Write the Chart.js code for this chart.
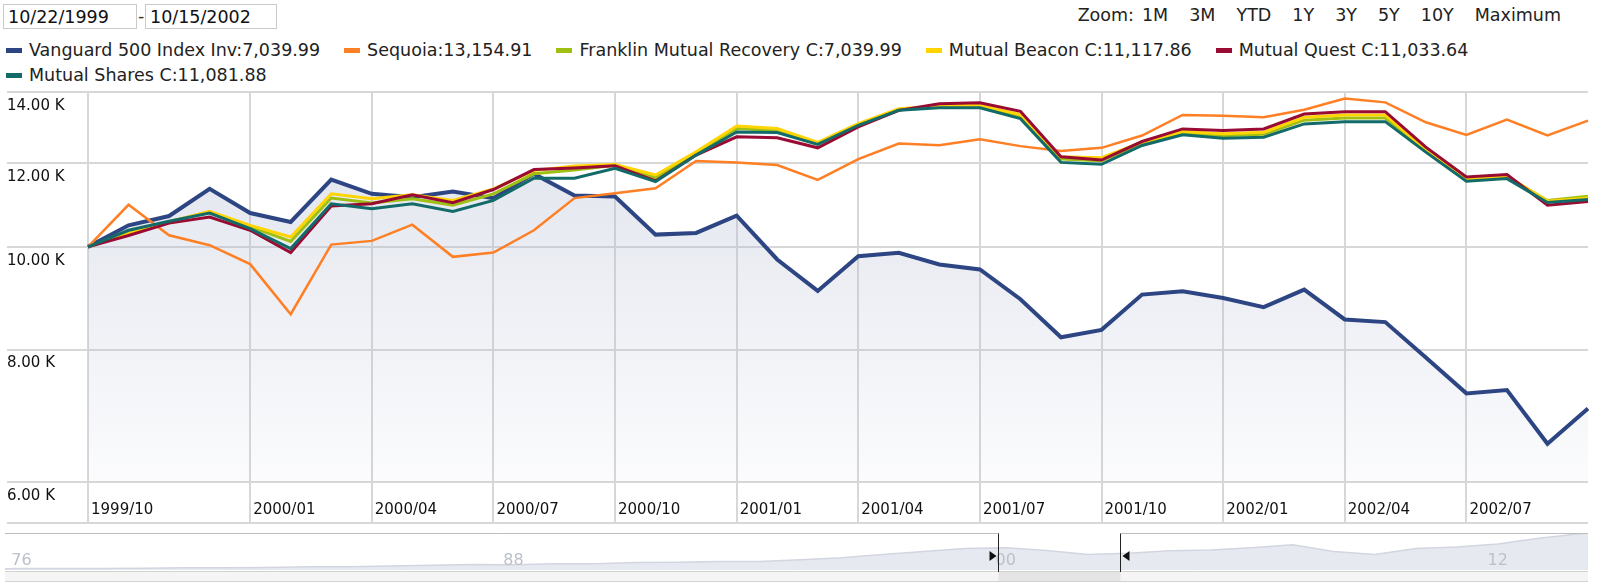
<!DOCTYPE html>
<html>
<head>
<meta charset="utf-8">
<script src="https://cdn.jsdelivr.net/npm/chart.js@4.4.1/dist/chart.umd.min.js"></script>
<style>
  html, body { margin:0; padding:0; background:#fff; }
  body { width:1600px; height:587px; overflow:hidden; position:relative; font-family:'DejaVu Sans', Verdana, sans-serif; color:#222; }
  .dateIn { position:absolute; top:4px; height:25px; box-sizing:border-box; border:1px solid #c9c9c9; font:17.5px 'DejaVu Sans'; padding:0 4px; color:#111; background:#fff; outline:none; }
  #dash { position:absolute; left:138px; top:4px; font:17.5px 'DejaVu Sans'; line-height:25px; color:#333; }
  #zoom { position:absolute; right:39px; top:3px; font:17.5px 'DejaVu Sans'; line-height:25px; color:#222; white-space:nowrap; }
  #zoom span { margin-left:21px; }
  #zoom span.first { margin-left:8px; }
  #legend { position:absolute; left:6px; top:38px; width:1590px; display:flex; flex-wrap:wrap; column-gap:24px; font:17.5px 'DejaVu Sans'; line-height:25px; color:#222; }
  .item { display:inline-flex; align-items:center; white-space:nowrap; }
  .sw { display:inline-block; width:16px; height:5px; margin-right:7px; }
  #mainWrap { position:absolute; left:0; top:80px; width:1600px; height:450px; }
  #navWrap { position:absolute; left:0; top:525px; width:1600px; height:62px; }
</style>
</head>
<body>
<input class="dateIn" style="left:3px;width:134px" value="10/22/1999">
<div id="dash">-</div>
<input class="dateIn" style="left:145px;width:132px" value="10/15/2002">
<div id="zoom">Zoom:<span class="first">1M</span><span>3M</span><span>YTD</span><span>1Y</span><span>3Y</span><span>5Y</span><span>10Y</span><span>Maximum</span></div>
<div id="legend"></div>
<div id="mainWrap"><canvas id="main" width="1600" height="450"></canvas></div>
<div id="navWrap"><canvas id="nav" width="1600" height="62"></canvas></div>
<script>
// ---------- data ----------
const categories = ['1999/10/22','1999/10/29','1999/11/30','1999/12/31','2000/01/31','2000/02/29','2000/03/31','2000/04/28','2000/05/31','2000/06/30','2000/07/31','2000/08/31','2000/09/29','2000/10/31','2000/11/30','2000/12/29','2001/01/31','2001/02/28','2001/03/30','2001/04/30','2001/05/31','2001/06/29','2001/07/31','2001/08/31','2001/09/28','2001/10/31','2001/11/30','2001/12/31','2002/01/31','2002/02/28','2002/03/28','2002/04/30','2002/05/31','2002/06/28','2002/07/31','2002/08/30','2002/09/30','2002/10/15'];

const vanguard = [10000,10479,10693,11344,10763,10556,11575,11222,11141,11279,11117,11718,11182,11156,10270,10307,10700,9730,9087,9800,9871,9625,9522,8925,8216,8350,9015,9080,8950,8772,9113,8541,8492,7862,7274,7327,6520,7040];
const sequoia  = [10000,10958,10255,10036,9632,8639,10050,10131,10494,9786,9878,10367,11117,11237,11359,12050,12015,11946,11565,12102,12518,12473,12636,12447,12313,12400,12737,13318,13299,13251,13473,13806,13688,13109,12755,13185,12737,13155];
const franklin = [10000,10300,10560,10790,10450,10120,11120,11000,11100,10950,11220,11720,11820,11940,11620,12260,12930,12880,12520,13050,13480,13560,13570,13280,12100,12060,12520,12810,12730,12770,13170,13230,13230,12330,11570,11640,11060,11160];
const beacon   = [10000,10292,10556,10801,10479,10218,11222,11101,11198,11061,11344,11802,11920,11960,11691,12295,13005,12930,12546,13071,13501,13580,13599,13328,12163,12137,12555,12847,12783,12829,13251,13318,13318,12358,11599,11666,11045,11118];
const quest    = [10000,10250,10530,10670,10367,9878,10927,10982,11198,11006,11327,11828,11870,11929,11540,12207,12700,12673,12402,12977,13453,13648,13678,13424,12163,12076,12572,12921,12875,12921,13347,13414,13414,12420,11640,11700,10949,11034];
const shares   = [10000,10367,10571,10763,10404,9964,10982,10864,10982,10801,11061,11608,11608,11860,11524,12207,12838,12820,12492,13024,13453,13531,13531,13213,12015,11964,12465,12755,12663,12691,13062,13127,13127,12286,11532,11599,11013,11082];

const seriesNames  = ['Vanguard 500 Index Inv','Sequoia','Franklin Mutual Recovery C','Mutual Beacon C','Mutual Quest C','Mutual Shares C'];
const legendValues = [7039.99, 13154.91, 7039.99, 11117.86, 11033.64, 11081.88];
const seriesColors = ['#2d4683','#ff7f24','#9fc012','#ffd400','#990b32','#126b69'];
const seriesWidths = [4, 2.5, 3, 3, 3, 3];

const yTickValues = [6000, 8000, 10000, 12000, 14000];
const xTickLabels = ['1999/10','2000/01','2000/04','2000/07','2000/10','2001/01','2001/04','2001/07','2001/10','2002/01','2002/04','2002/07'];

// navigator (long history) data
const navYears  = [1975.4,1976,1977,1978,1979,1980,1981,1982,1983,1984,1985,1986,1987,1988,1989,1990,1991,1992,1993,1994,1995,1996,1997,1998,1999,2000,2001,2002,2003,2004,2005,2006,2007,2008,2009,2010,2011,2012,2013,2014,2014.3];
const navValues = [3,4,4,4,5,6,6,7,9,9,11,13,15,14,17,17,20,21,23,23,28,33,42,50,58,60,53,42,45,52,54,60,68,50,42,58,62,70,86,98,100];
const navTickYears = [1976, 1988, 2000, 2012];
const navRange = [1999.81, 2002.79];

// ---------- legend ----------
const legendEl = document.getElementById('legend');
seriesNames.forEach((n, k) => {
  const it = document.createElement('span'); it.className = 'item';
  const sw = document.createElement('span'); sw.className = 'sw'; sw.style.background = seriesColors[k];
  const tx = document.createElement('span');
  tx.textContent = n + ':' + legendValues[k].toLocaleString('en-US', {minimumFractionDigits:2, maximumFractionDigits:2});
  it.appendChild(sw); it.appendChild(tx); legendEl.appendChild(it);
});

// ---------- main chart ----------
const GRID = '#d7d7d7';
const seriesData = [vanguard, sequoia, franklin, beacon, quest, shares];
const xTickIdx = xTickLabels.map(l => categories.findIndex(c => c.startsWith(l)));

const bandLine = {
  id: 'bandLine',
  afterDraw(chart) {
    const {ctx, scales:{x, y}, chartArea} = chart;
    ctx.save();
    ctx.strokeStyle = GRID; ctx.lineWidth = 2;
    ctx.beginPath(); ctx.moveTo(y.left, x.bottom); ctx.lineTo(chartArea.right, x.bottom); ctx.stroke();
    ctx.restore();
  }
};

new Chart(document.getElementById('main'), {
  type: 'line',
  data: {
    labels: categories,
    datasets: seriesData.map((d, k) => ({
      label: seriesNames[k],
      data: d,
      borderColor: seriesColors[k],
      borderWidth: seriesWidths[k],
      pointRadius: 0,
      tension: 0,
      order: 6 - k,
      fill: k === 0 ? 'start' : false,
      backgroundColor: k === 0 ? (c) => {
        const {ctx, chartArea} = c.chart;
        if (!chartArea) return 'rgba(180,188,210,0.2)';
        const g = ctx.createLinearGradient(0, chartArea.top, 0, chartArea.bottom);
        g.addColorStop(0, 'rgba(178,186,210,0.42)');
        g.addColorStop(1, 'rgba(178,186,210,0.05)');
        return g;
      } : 'transparent'
    }))
  },
  options: {
    responsive: false,
    animation: false,
    events: [],
    layout: { padding: { left: 7, right: 12, top: 10, bottom: 7 } },
    plugins: { legend: { display: false }, tooltip: { enabled: false } },
    scales: {
      x: {
        type: 'category',
        offset: false,
        grid: { color: GRID, lineWidth: 2, drawTicks: true, tickLength: 41, tickColor: GRID, tickWidth: 2 },
        border: { display: false },
        afterBuildTicks: (s) => { s.ticks = xTickIdx.map(i => ({ value: i })); },
        afterFit: (s) => { s.height = 41; },
        ticks: {
          autoSkip: false, maxRotation: 0, minRotation: 0,
          align: 'start', labelOffset: 3, padding: -22,
          color: '#111', font: { family: 'DejaVu Sans', size: 15 },
          callback: (v, i) => xTickLabels[i]
        }
      },
      y: {
        type: 'logarithmic',
        min: 6000, max: 14000,
        grid: { color: GRID, lineWidth: 2, drawTicks: true, tickLength: 81, tickColor: GRID, tickWidth: 2 },
        border: { display: false },
        afterBuildTicks: (s) => { s.ticks = yTickValues.map(v => ({ value: v })); },
        afterFit: (s) => { s.width = 81; },
        ticks: {
          crossAlign: 'far', labelOffset: 14,
          color: '#111', font: { family: 'DejaVu Sans', size: 15 },
          callback: (v) => (v / 1000).toFixed(2) + ' K'
        }
      }
    }
  },
  plugins: [bandLine]
});

// ---------- navigator ----------
const navDeco = {
  id: 'navDeco',
  afterDraw(chart) {
    const {ctx, chartArea, scales:{x}} = chart;
    const h1 = Math.round(x.getPixelForValue(navRange[0])) + 0.5;
    const h2 = Math.round(x.getPixelForValue(navRange[1])) + 0.5;
    const top = chartArea.top + 0.5, bot = chartArea.bottom;
    ctx.save();
    // year labels from the scale's ticks
    ctx.fillStyle = '#bcc0ca';
    ctx.font = '16px "DejaVu Sans"';
    ctx.textAlign = 'center'; ctx.textBaseline = 'middle';
    x.ticks.forEach(t => {
      ctx.fillText(String(t.value).slice(2), x.getPixelForValue(t.value), chartArea.bottom - 9);
    });
    // outline outside the selection
    ctx.strokeStyle = '#bdbdbd'; ctx.lineWidth = 1;
    ctx.beginPath(); ctx.moveTo(chartArea.left, top); ctx.lineTo(h1, top);
    ctx.moveTo(h2, top); ctx.lineTo(chartArea.right, top); ctx.stroke();
    // scrollbar
    ctx.fillStyle = '#f5f5f5';
    ctx.fillRect(chartArea.left, bot + 2, chartArea.right - chartArea.left, 10);
    ctx.fillStyle = '#e4e4e4';
    ctx.fillRect(h1, bot + 2, h2 - h1, 10);
    ctx.strokeStyle = '#d2d2d2';
    ctx.beginPath(); ctx.moveTo(chartArea.left, bot + 1.5); ctx.lineTo(chartArea.right, bot + 1.5);
    ctx.moveTo(chartArea.left, bot + 11.5); ctx.lineTo(chartArea.right, bot + 11.5); ctx.stroke();
    // handles
    ctx.strokeStyle = '#222'; ctx.lineWidth = 1;
    ctx.beginPath(); ctx.moveTo(h1, top); ctx.lineTo(h1, bot + 2);
    ctx.moveTo(h2, top); ctx.lineTo(h2, bot + 2); ctx.stroke();
    const mid = chartArea.top + 23;
    ctx.fillStyle = '#111';
    ctx.beginPath(); ctx.moveTo(h1 - 9, mid - 5); ctx.lineTo(h1 - 2, mid); ctx.lineTo(h1 - 9, mid + 5); ctx.closePath(); ctx.fill();
    ctx.beginPath(); ctx.moveTo(h2 + 9, mid - 5); ctx.lineTo(h2 + 2, mid); ctx.lineTo(h2 + 9, mid + 5); ctx.closePath(); ctx.fill();
    ctx.restore();
  }
};

new Chart(document.getElementById('nav'), {
  type: 'line',
  data: {
    datasets: [{
      data: navYears.map((yr, i) => ({ x: yr, y: navValues[i] })),
      borderColor: '#d3d6e0', borderWidth: 1.5,
      backgroundColor: 'rgba(215,219,231,0.6)',
      fill: 'start', pointRadius: 0, tension: 0
    }]
  },
  options: {
    responsive: false, animation: false, events: [],
    layout: { padding: { left: 5, right: 12, top: 8, bottom: 17 } },
    plugins: { legend: { display: false }, tooltip: { enabled: false } },
    scales: {
      x: {
        type: 'linear', min: 1975.6, max: 2014.2,
        grid: { display: false, drawTicks: false },
        border: { display: false },
        afterBuildTicks: (s) => { s.ticks = navTickYears.map(v => ({ value: v })); },
        afterFit: (s) => { s.height = 0; },
        ticks: { display: false }
      },
      y: { display: false, min: 0, max: 100 }
    }
  },
  plugins: [navDeco]
});
</script>
</body>
</html>
